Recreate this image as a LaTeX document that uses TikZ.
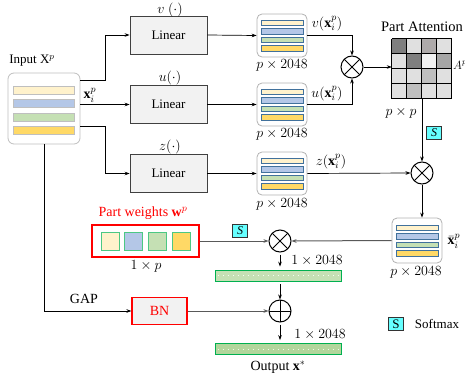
\RequirePackage{fix-cm}
\documentclass[tikz,border=0pt]{standalone}
\usepackage{fontspec}
\setmainfont{Liberation Serif}
\usetikzlibrary{arrows.meta,calc}
\definecolor{cy}{HTML}{FFF2CC}
\definecolor{cb}{HTML}{B4C7E7}
\definecolor{cg}{HTML}{C5E0B4}
\definecolor{cyd}{HTML}{FFD966}
\definecolor{barblue}{HTML}{41719C}
\definecolor{bargray}{HTML}{BFBFBF}
\definecolor{gborder}{HTML}{00B050}
\definecolor{gfill}{HTML}{C5E0B4}
\definecolor{gfillb}{HTML}{B2D69C}
\definecolor{scy}{HTML}{66FFFF}
\definecolor{mga}{HTML}{7F7F7F}
\definecolor{mgb}{HTML}{E0E0E0}
\definecolor{mgc}{HTML}{AEAAAA}
\definecolor{mgd}{HTML}{F2F2F2}
\definecolor{mge}{HTML}{A6A6A6}
\definecolor{mgf}{HTML}{BFBFBF}
\definecolor{lgray}{HTML}{595959}
\newcommand\featbars[1]{%
  \foreach \cc/\dy in {cy/-12.75, cb/-4.25, cg/4.25, cyd/12.75}{
    \draw[draw=barblue, fill=\cc, line width=0.6pt] ($(#1.center)+(-21,\dy-2.75)$) rectangle ($(#1.center)+(21,\dy+2.75)$);}}
\begin{document}
\begin{tikzpicture}[x=1pt,y=-1pt,font=\fontsize{13}{15}\selectfont,
  arr/.style={-{Stealth[length=5pt,width=3.6pt]}, line width=0.7pt},
  garr/.style={-{Stealth[length=5pt,width=3.6pt]}, line width=1pt, draw=lgray},
  linbox/.style={draw=black!75, fill=black!5, line width=0.8pt, minimum width=77pt, minimum height=38pt, inner sep=0},
  featbox/.style={draw=black!30, fill=white, rounded corners=5pt, line width=0.8pt, minimum width=50pt, minimum height=43pt, inner sep=0},
  otimes/.style={circle, draw, line width=1pt, minimum size=22pt, inner sep=0, fill=white,
    path picture={\draw[line width=1pt] (path picture bounding box.north west) -- (path picture bounding box.south east) (path picture bounding box.north east) -- (path picture bounding box.south west);}},
  oplus/.style={circle, draw, line width=1pt, minimum size=22pt, inner sep=0, fill=white,
    path picture={\draw[line width=1pt] (path picture bounding box.north) -- (path picture bounding box.south) (path picture bounding box.east) -- (path picture bounding box.west);}},
  sbox/.style={draw=black!80, fill=scy, line width=0.7pt, minimum width=15pt, minimum height=13pt, inner sep=0, font=\fontsize{12}{12}\selectfont\itshape},
  gbar/.style={draw=gborder, line width=0.8pt, minimum width=126pt, minimum height=11pt, inner sep=0},
  lbl/.style={inner sep=1pt},
  mlbl/.style={inner sep=1pt, font=\fontsize{14}{16}\selectfont}
]
\useasboundingbox (0,0) rectangle (465,380);

% input
\node[lbl] (tin) at (32,61) {Input X$^p$};
\node[draw=bargray, fill=white, rounded corners=6pt, line width=0.8pt, minimum width=72pt, minimum height=71pt, inner sep=0] (in) at (44,108.5) {};
\foreach \cc/\dy in {cy/-18.5, cb/-5, cg/8.5, cyd/22}{
  \draw[draw=bargray, fill=\cc, line width=0.6pt] ($(in.center)+(-30.5,\dy-4)$) rectangle ($(in.center)+(30.5,\dy+4)$);}

% linear boxes
\node[linbox] (lv) at (168.5,35) {Linear};
\node[linbox] (lu) at (168.5,104.5) {Linear};
\node[linbox] (lz) at (168.5,173.5) {Linear};
\node[mlbl, inner sep=0] (tv) at (170,9.5) {$v\ (\cdot)$};
\node[mlbl] (tu) at (170,78) {$u(\cdot)$};
\node[mlbl] (tz) at (170,147) {$z(\cdot)$};

% feature boxes
\node[featbox] (fv) at (282,35.5) {};
\node[featbox] (fu) at (282,104.5) {};
\node[featbox] (fz) at (282,173.5) {};
\featbars{fv}
\featbars{fu}
\featbars{fz}
\node[mlbl] (dv) at (282,65) {$p\times 2048$};
\node[mlbl] (du) at (282,134) {$p\times 2048$};
\node[mlbl] (dz) at (282,204) {$p\times 2048$};

% connections input -> linear
\coordinate (in1) at ($(in.north east)+(0,8)$);
\coordinate (in3) at ($(in.south east)+(0,-18)$);
\draw[arr] (in1) -- ++(25,0) |- (lv.west);
\draw[arr] (in.east |- lu.west) -- (lu.west);
\draw[arr] (in3) -- ++(25,0) |- (lz.west);
\node[mlbl] (txi) at (90,95) {$\mathbf{x}_i^p$};

\draw[arr] (lv.east) -- (fv.west);
\draw[arr] (lu.east) -- (fu.west);
\draw[arr] (lz.east) -- (fz.west);

% first product
\node[otimes] (o1) at (352,67) {};
\draw[arr] (fv.east) -| (o1.north);
\draw[arr] (fu.east) -| (o1.south);
\node[mlbl] (tvx) at (327,24) {$v(\mathbf{x}_i^p)$};
\node[mlbl] (tux) at (327,94) {$u(\mathbf{x}_i^p)$};

% matrix
\node[minimum size=60pt, inner sep=0] (mat) at (422,69) {};
\foreach \r/\c/\g in {0/0/mga,0/1/mgb,0/2/mgc,0/3/mgb,
                      1/0/mgb,1/1/mga,1/2/mgd,1/3/mge,
                      2/0/mgb,2/1/mgb,2/2/mgf,2/3/mgb,
                      3/0/mgb,3/1/mgf,3/2/mgb,3/3/mgb}{
  \fill[\g] ($(mat.north west)+(15*\c,15*\r)$) rectangle ++(15,15);}
\foreach \k in {0,15,30,45,60}{
  \draw[line width=1.3pt] ($(mat.north west)+(\k,0)$) -- ++(0,60);
  \draw[line width=1.3pt] ($(mat.north west)+(0,\k)$) -- ++(60,0);}
\node[lbl, font=\fontsize{14.5}{17}\selectfont] (tpa) at (422,27) {Part Attention};
\node[inner sep=0, anchor=west, font=\fontsize{12}{14}\selectfont] (tap) at (453,65) {$A^p$};
\node[mlbl] (tpp) at (401,113) {$p\times p$};
\draw[arr] (o1.east) -- (o1.east -| mat.west);

% second product
\node[otimes] (o2) at (422,173) {};
\draw[arr] (mat.south) -- (o2.north);
\node[sbox] (s1) at (434,133) {S};
\draw[arr] (fz.east) -- (o2.west);
\node[mlbl] (tzx) at (331,162) {$z(\mathbf{x}_i^p)$};

% xbar box
\node[featbox, minimum height=45pt] (xb) at (417,240.5) {};
\featbars{xb}
\node[mlbl] (txb) at (454,241) {$\bar{\mathbf{x}}_i^p$};
\node[mlbl] (dxb) at (416,272) {$p\times 2048$};
\draw[arr] (o2.south) -- (o2.south |- xb.north);

% part weights
\node[lbl, text=red, font=\fontsize{14}{16}\selectfont] (tpw) at (143,213) {Part weights $\mathbf{w}^p$};
\node[draw=red, line width=1.2pt, fill=white, minimum width=107pt, minimum height=32pt, inner sep=0] (pw) at (145.5,241) {};
\foreach \cc/\xx [count=\i] in {cy/110, cb/133.5, cg/157, cyd/181}{
  \node[draw=gborder!70, fill=\cc, line width=0.9pt, minimum size=18pt, inner sep=0] (sq\i) at (\xx,241) {};}
\node[mlbl] (tpwd) at (146,266) {$1\times p$};

% third product
\node[otimes] (o3) at (280,241) {};
\draw[garr] (pw.east) -- (o3.west);
\draw[garr] (xb.west) -- (o3.east);
\node[sbox] (s2) at (240,231) {S};

% bars
\node[gbar, fill=gfill] (b1) at (278,275.5) {};
\draw[white!85!gfill, line width=1pt, dash pattern=on 1pt off 4pt] ($(b1.west)+(3,0)$) -- ($(b1.east)+(-3,0)$);
\node[mlbl] (tb1) at (317,261) {$1\times 2048$};
\draw[arr, shorten <=2pt, shorten >=3pt] (o3.south) -- (o3.south |- b1.north);

\node[oplus] (op) at (280,311) {};
\draw[arr, shorten <=3pt] (b1.south -| op.north) -- (op.north);

\node[gbar, fill=gfillb] (b2) at (278,349) {};
\draw[white!80!gfillb, line width=1pt, dash pattern=on 1pt off 4pt] ($(b2.west)+(3,0)$) -- ($(b2.east)+(-3,0)$);
\node[mlbl] (tb2) at (320,335) {$1\times 2048$};
\draw[arr, shorten <=2pt, shorten >=3pt] (op.south) -- (op.south |- b2.north);
\node[lbl, font=\fontsize{14}{16}\selectfont] (tout) at (278,367) {Output $\mathbf{x}^*$};

% GAP / BN
\node[draw=red, fill=black!5, line width=1.2pt, minimum width=55pt, minimum height=27pt, inner sep=0, text=red, font=\fontsize{14}{16}\selectfont] (bn) at (159.5,311) {BN};
\draw[arr] (in.south) |- (bn.west);
\node[lbl, font=\fontsize{14}{16}\selectfont] (tgap) at (84,299) {GAP};
\draw[garr] (bn.east) -- (op.west);

% legend
\node[sbox, font=\fontsize{13}{13}\selectfont] (s3) at (396,324) {S};
\node[lbl] (tsm) at (437,324) {Softmax};
\end{tikzpicture}
\end{document}
